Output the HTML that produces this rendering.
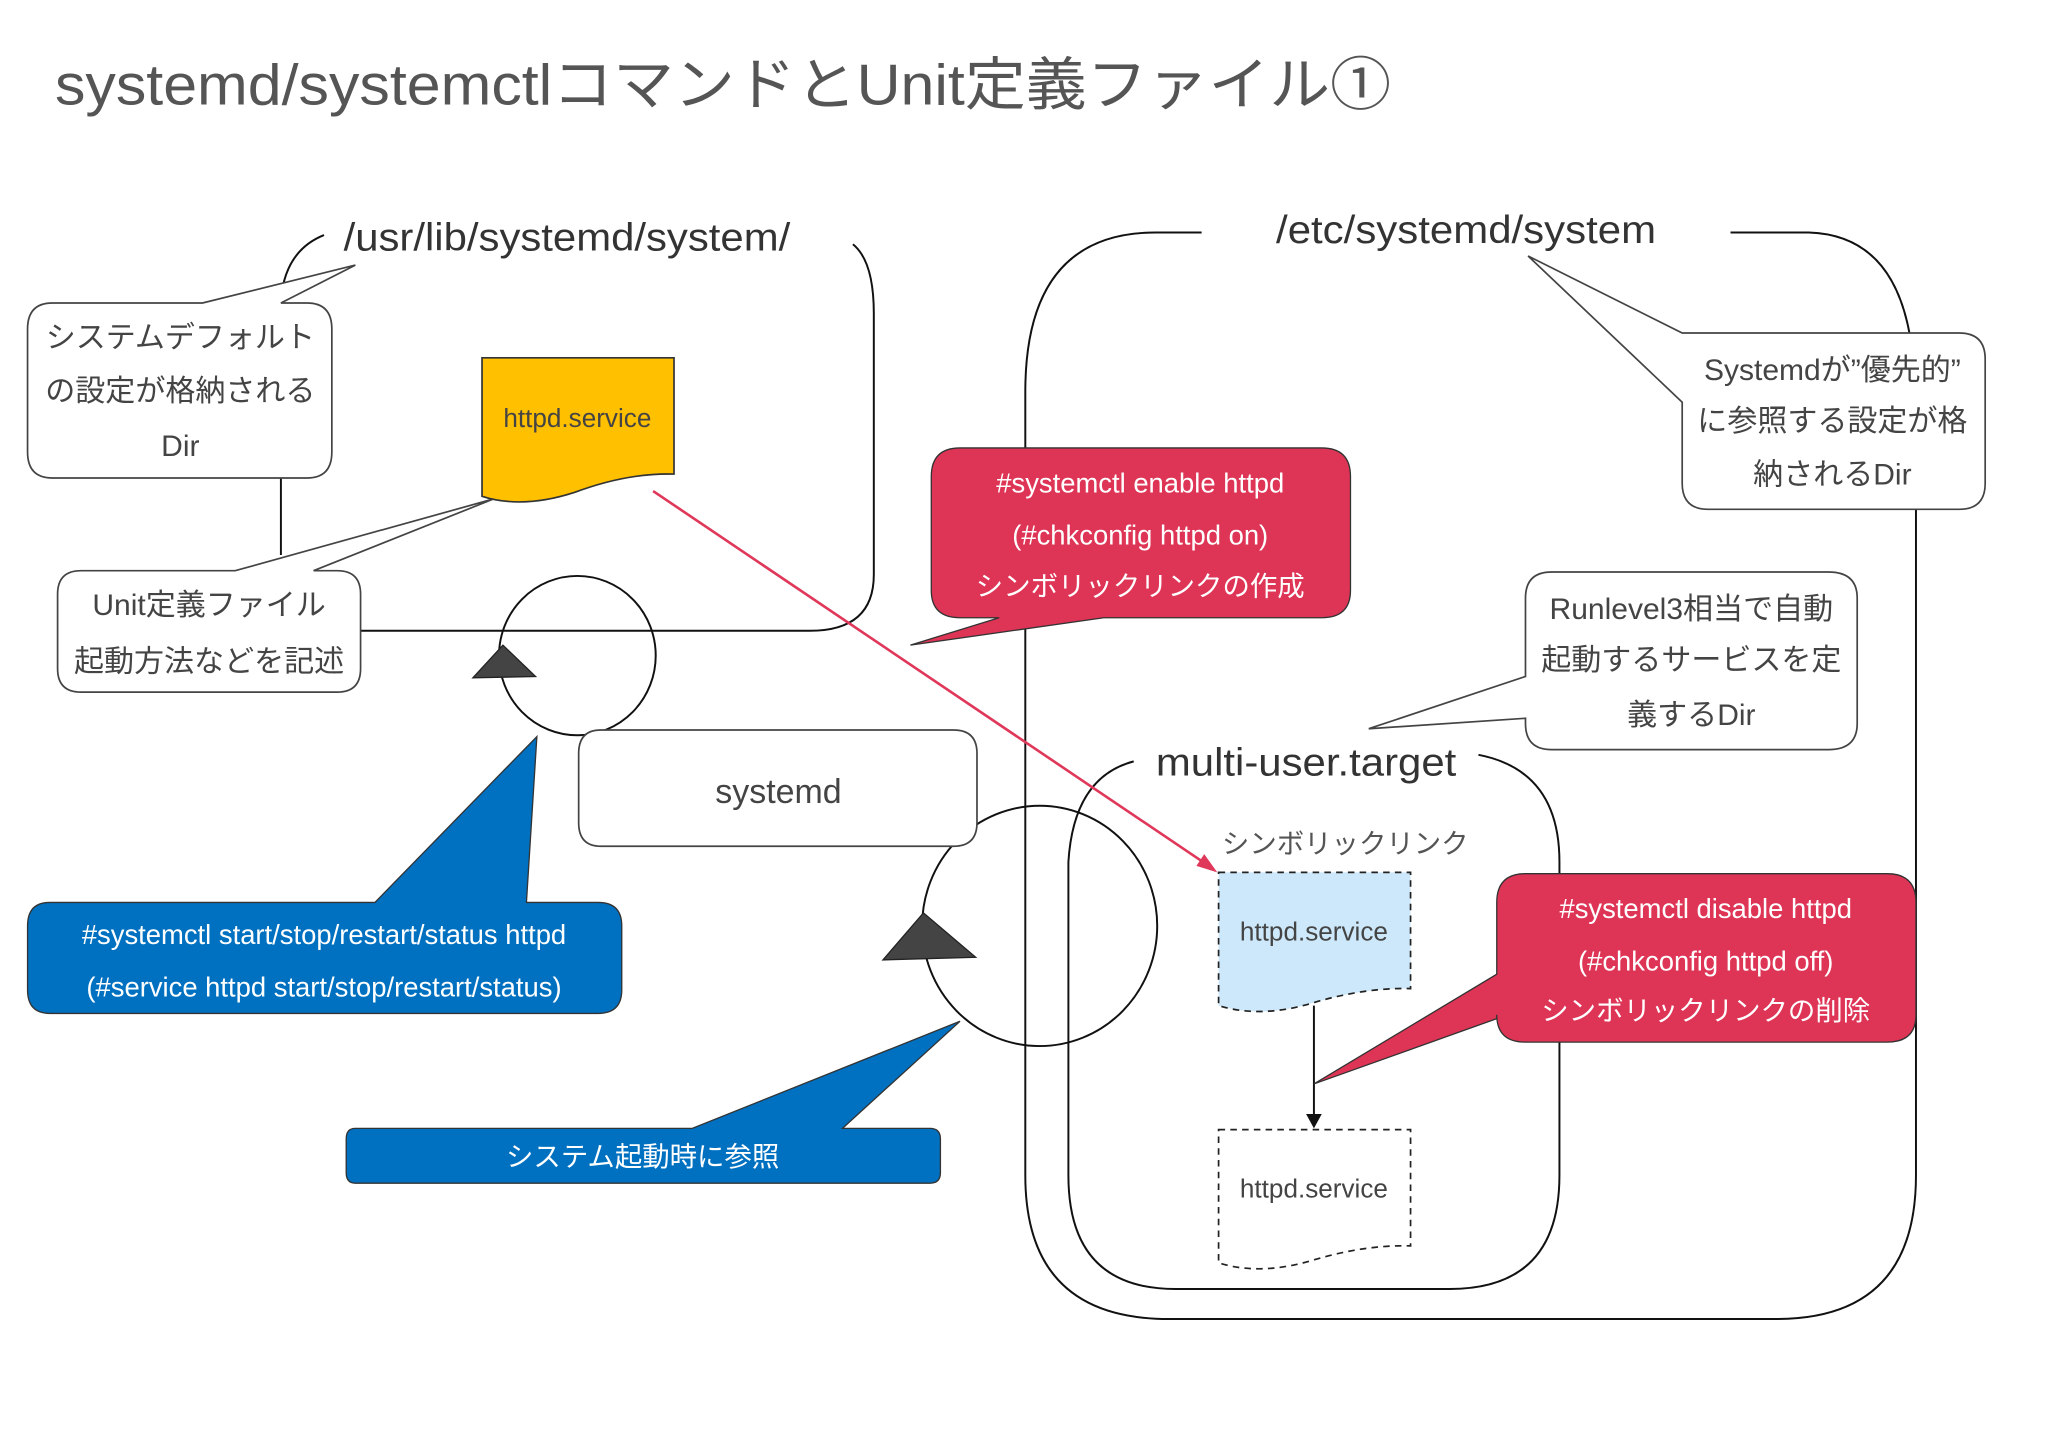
<!DOCTYPE html>
<html><head><meta charset="utf-8"><style>
html,body{margin:0;padding:0;background:#fff}
svg{display:block}
text{font-family:"Liberation Sans","Noto Sans CJK JP",sans-serif}
</style></head><body>
<svg width="2048" height="1447" viewBox="0 0 1568 1108" xmlns="http://www.w3.org/2000/svg">
<rect width="1568" height="1108" fill="#fff"/>
<text x="42" y="80" font-size="44" fill="#555" textLength="1023" lengthAdjust="spacingAndGlyphs">systemd/systemctlコマンドとUnit定義ファイル①</text>

<!-- left container -->
<g fill="none" stroke="#111" stroke-width="1.5">
<path d="M248,180 Q218,192 215,230"/>
<path d="M215,366 V425"/>
<path d="M653,187 Q669,200 669,240 V440 Q669,483 620,483 H276"/>
<!-- right container -->
<path d="M920,178 H885 Q785,178 785,300 V900 Q785,1010 895,1010 H1360 Q1467,1010 1467,900 V390"/>
<path d="M1325,178 H1385 Q1448,180 1462,255"/>
<!-- multi-user target -->
<path d="M868,583 Q822,595 818,660 V900 Q818,987 900,987 H1110 Q1194,987 1194,900 V660 Q1194,590 1132,578"/>
<ellipse cx="442" cy="502" rx="60" ry="61"/>
<ellipse cx="796" cy="709" rx="90" ry="92"/>
</g>
<polygon points="362,519 385,494 410,518" fill="#444" stroke="#222"/>
<polygon points="676,735 707,699 747,733" fill="#444" stroke="#222"/>

<text x="263" y="192" font-size="30" fill="#333" textLength="342" lengthAdjust="spacingAndGlyphs">/usr/lib/systemd/system/</text>
<text x="977" y="186" font-size="30" fill="#333" textLength="291" lengthAdjust="spacingAndGlyphs">/etc/systemd/system</text>
<text x="885" y="594" font-size="30" fill="#333" textLength="230" lengthAdjust="spacingAndGlyphs">multi-user.target</text>

<!-- white callouts -->
<g fill="#fff" stroke="#444" stroke-width="1.3">
<path d="M40,232 H155 L272,203 L215,232 H235 Q254,232 254,252 V346 Q254,366 235,366 H40 Q21,366 21,346 V252 Q21,232 40,232 Z"/>
<path d="M62,437 H180 L378,382 L240,437 H258 Q276,437 276,455 V512 Q276,530 258,530 H62 Q44,530 44,512 V455 Q44,437 62,437 Z"/>
<path d="M1305,255 H1288 L1170,196 L1288,308 V370 Q1288,390 1308,390 H1500 Q1520,390 1520,370 V275 Q1520,255 1500,255 Z"/>
<path d="M1188,438 H1400 Q1422,438 1422,458 V554 Q1422,574 1400,574 H1188 Q1168,574 1168,554 V550 L1048,558 L1168,518 V458 Q1168,438 1188,438 Z"/>
<path d="M460,559 H730 Q748,559 748,577 V630 Q748,648 730,648 H460 Q443,648 443,630 V577 Q443,559 460,559 Z"/>
</g>
<g font-size="23" fill="#444" text-anchor="middle">
<text x="138" y="266">システムデフォルト</text>
<text x="138" y="307">の設定が格納される</text>
<text x="138" y="349">Dir</text>
<text x="160" y="471">Unit定義ファイル</text>
<text x="160" y="514">起動方法などを記述</text>
<text x="1403" y="291">Systemdが”優先的”</text>
<text x="1403" y="330">に参照する設定が格</text>
<text x="1403" y="371">納されるDir</text>
<text x="1295" y="474">Runlevel3相当で自動</text>
<text x="1295" y="513">起動するサービスを定</text>
<text x="1295" y="555">義するDir</text>
<text x="596" y="615" font-size="26">systemd</text>
<text x="1030" y="653" font-size="21" fill="#555">シンボリックリンク</text>
</g>

<!-- yellow doc -->
<path d="M369,274 H516 V363 Q480,362 440,377 Q400,390 369,380 Z" fill="#FFC000" stroke="#333" stroke-width="1.3"/>
<text x="442" y="327" font-size="20" fill="#444" text-anchor="middle">httpd.service</text>

<!-- blue dashed doc -->
<path d="M933,668 H1080 V757 Q1045,756 1005,768 Q965,780 933,770 Z" fill="#CCE8FA" stroke="#222" stroke-width="1.3" stroke-dasharray="5,4"/>
<text x="1006" y="720" font-size="20" fill="#444" text-anchor="middle">httpd.service</text>
<path d="M933,865 H1080 V954 Q1045,953 1005,965 Q965,977 933,967 Z" fill="#fff" stroke="#222" stroke-width="1.3" stroke-dasharray="5,4"/>
<text x="1006" y="917" font-size="20" fill="#444" text-anchor="middle">httpd.service</text>
<line x1="1006" y1="770" x2="1006" y2="853" stroke="#111" stroke-width="1.5"/>
<polygon points="1000,853 1012,853 1006,864" fill="#111"/>

<!-- red arrow -->
<line x1="500" y1="376" x2="924" y2="662" stroke="#E0385A" stroke-width="2"/>
<polygon points="932,668 916,663 922,654" fill="#E0385A"/>

<!-- red callouts -->
<g fill="#DE3455" stroke="#333" stroke-width="1">
<path d="M735,343 H1012 Q1034,343 1034,365 V452 Q1034,473 1012,473 H845 L697,494 L765,473 H735 Q713,473 713,452 V365 Q713,343 735,343 Z"/>
<path d="M1168,669 H1445 Q1467,669 1467,691 V777 Q1467,798 1445,798 H1168 Q1146,798 1146,777 V780 L1006,830 L1146,746 V691 Q1146,669 1168,669 Z"/>
</g>
<g font-size="21" fill="#fff" text-anchor="middle">
<text x="873" y="377">#systemctl enable httpd</text>
<text x="873" y="417">(#chkconfig httpd on)</text>
<text x="873" y="456">シンボリックリンクの作成</text>
<text x="1306" y="703">#systemctl disable httpd</text>
<text x="1306" y="743">(#chkconfig httpd off)</text>
<text x="1306" y="781">シンボリックリンクの削除</text>
</g>

<!-- blue callouts -->
<g fill="#0070C0" stroke="#333" stroke-width="1">
<path d="M38,691 H287 L411,564 L403,691 H458 Q476,691 476,709 V758 Q476,776 458,776 H38 Q21,776 21,758 V709 Q21,691 38,691 Z"/>
<path d="M272,864 H530 L735,782 L645,864 H712 Q720,864 720,872 V898 Q720,906 712,906 H272 Q265,906 265,898 V872 Q265,864 272,864 Z"/>
</g>
<g font-size="21" fill="#fff" text-anchor="middle">
<text x="248" y="723">#systemctl start/stop/restart/status httpd</text>
<text x="248" y="763">(#service httpd start/stop/restart/status)</text>
<text x="492" y="893">システム起動時に参照</text>
</g>
</svg>
</body></html>
